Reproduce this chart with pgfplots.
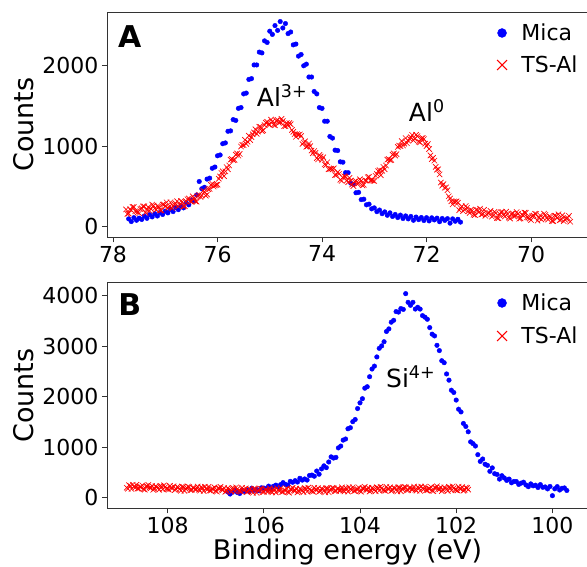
\documentclass[border=0pt]{standalone}
\usepackage{fontspec}
\setmainfont{DejaVu Sans}
\usepackage{pgfplots}
\pgfplotsset{compat=1.18}

\pgfplotsset{
  panel/.style={
    scale only axis, width=481pt, anchor=south west,
    x dir=reverse,
    tick align=outside, tick pos=left,
    major tick length=5pt,
    axis line style={black!80, line width=0.8pt},
    tick style={black!80, line width=0.8pt},
    /pgf/number format/assume math mode=true,
    /pgf/number format/1000 sep={},
    ticklabel style={font=\fontsize{22}{26}\selectfont},
    every axis y label/.style={at={(axis description cs:-0.1538,0.5)}, rotate=90, anchor=base, font=\fontsize{27}{32}\selectfont},
    ylabel={Counts},
    legend cell align=left,
    legend style={draw=none, fill=none, inner sep=0pt, outer sep=0pt, column sep=14.5pt, font=\fontsize{22}{26}\selectfont, nodes={text height=16pt, text depth=0pt, inner xsep=0pt, inner ysep=3pt}, anchor=north west},
  },
  mica/.style={only marks, mark=*, color=blue, mark size=2.3pt, mark options={draw=none, fill=blue},
    legend image code/.code={\draw[##1, only marks, mark size=4.5pt] plot coordinates {(0pt,0pt)};}},
  tsal/.style={only marks, mark=x, color=red, mark size=3.8pt, mark options={line width=0.65pt},
    legend image code/.code={\draw[##1, only marks, mark size=7pt, mark options={line width=1.1pt}] plot coordinates {(0pt,0pt)};}},
}

\begin{document}
\begin{tikzpicture}
%% ---------------- Panel A ----------------
\begin{axis}[panel, at={(107pt,329.7pt)}, height=225.3pt,
  xmin=68.91, xmax=78.115, ymin=-134, ymax=2669,
  xtick={70,72,74,76,78}, ytick={0,1000,2000},
  legend style={at={(axis description cs:0.811,0.9556)}, row sep=10pt}]
\addplot[mica] coordinates {
(77.70,95) (77.65,62) (77.60,110) (77.55,78) (77.50,104) (77.45,88) (77.40,131) (77.35,102)
(77.30,148) (77.25,120) (77.20,160) (77.15,131) (77.10,175) (77.05,150) (77.00,192) (76.95,170)
(76.90,214) (76.85,186) (76.80,236) (76.75,210) (76.70,258) (76.65,232) (76.60,296) (76.55,270)
(76.50,332) (76.45,318) (76.40,392) (76.35,560) (76.30,470) (76.25,488) (76.20,590) (76.15,602)
(76.10,725) (76.05,740) (76.00,880) (75.95,890) (75.90,1030) (75.85,1040) (75.80,1185) (75.75,1190)
(75.70,1330) (75.65,1320) (75.60,1470) (75.55,1480) (75.50,1650) (75.45,1660) (75.40,1830) (75.35,1840)
(75.30,2010) (75.25,2010) (75.20,2170) (75.15,2160) (75.10,2310) (75.05,2290) (75.00,2430) (74.95,2390)
(74.90,2500) (74.85,2440) (74.80,2550) (74.75,2470) (74.70,2525) (74.65,2400) (74.60,2420) (74.55,2260)
(74.50,2270) (74.45,2120) (74.40,2140) (74.35,2000) (74.30,2020) (74.25,1860) (74.20,1860) (74.15,1680)
(74.10,1650) (74.05,1480) (74.00,1470) (73.95,1310) (73.90,1310) (73.85,1120) (73.80,1100) (73.75,950)
(73.70,945) (73.65,805) (73.60,800) (73.55,670) (73.50,670) (73.45,540) (73.40,525) (73.35,420)
(73.30,425) (73.25,335) (73.20,340) (73.15,270) (73.10,278) (73.05,220) (73.00,232) (72.95,185)
(72.90,205) (72.85,160) (72.80,182) (72.75,140) (72.70,170) (72.65,125) (72.60,150) (72.55,112)
(72.50,142) (72.45,100) (72.40,132) (72.35,95) (72.30,125) (72.25,78) (72.20,118) (72.15,86)
(72.10,112) (72.05,75) (72.00,110) (71.95,70) (71.90,108) (71.85,82) (71.80,104) (71.75,60)
(71.70,100) (71.65,76) (71.60,98) (71.55,42) (71.50,95) (71.45,66) (71.40,90) (71.35,55)
};
\addlegendentry{Mica}
\addplot[tsal] coordinates {
(77.75,213) (77.70,162) (77.65,205) (77.60,242) (77.55,187) (77.50,164) (77.45,226) (77.40,251)
(77.35,210) (77.30,195) (77.25,273) (77.20,225) (77.15,254) (77.10,201) (77.05,274) (77.00,250)
(76.95,233) (76.90,302) (76.85,255) (76.80,286) (76.75,248) (76.70,317) (76.65,251) (76.60,311)
(76.55,349) (76.50,309) (76.45,353) (76.40,309) (76.35,395) (76.30,387) (76.25,433) (76.20,399)
(76.15,468) (76.10,532) (76.05,511) (76.00,521) (75.95,623) (75.90,686) (75.85,686) (75.80,712)
(75.75,832) (75.70,825) (75.65,894) (75.60,882) (75.55,995) (75.50,1012) (75.45,1028) (75.40,1130)
(75.35,1112) (75.30,1171) (75.25,1153) (75.20,1242) (75.15,1188) (75.10,1261) (75.05,1303) (75.00,1266)
(74.95,1306) (74.90,1259) (74.85,1325) (74.80,1297) (74.75,1313) (74.70,1249) (74.65,1263) (74.60,1272)
(74.55,1178) (74.50,1116) (74.45,1140) (74.40,1126) (74.35,1046) (74.30,992) (74.25,1032) (74.20,945)
(74.15,939) (74.10,852) (74.05,890) (74.00,832) (73.95,773) (73.90,800) (73.85,717) (73.80,711)
(73.75,640) (73.70,677) (73.65,581) (73.60,611) (73.55,621) (73.50,551) (73.45,572) (73.40,504)
(73.35,567) (73.30,537) (73.25,568) (73.20,519) (73.15,570) (73.10,617) (73.05,575) (73.00,566)
(72.95,653) (72.90,701) (72.85,693) (72.80,712) (72.75,832) (72.70,825) (72.65,894) (72.60,882)
(72.55,990) (72.50,1002) (72.45,1008) (72.40,1100) (72.35,1067) (72.30,1111) (72.25,1073) (72.20,1142)
(72.15,1055) (72.10,1096) (72.05,1088) (72.00,1001) (71.95,964) (71.90,839) (71.85,820) (71.80,707)
(71.75,648) (71.70,509) (71.65,483) (71.60,452) (71.55,348) (71.50,276) (71.45,305) (71.40,296)
(71.35,231) (71.30,192) (71.25,255) (71.20,190) (71.15,209) (71.10,147) (71.05,210) (71.00,177)
(70.95,149) (70.90,208) (70.85,151) (70.80,171) (70.75,123) (70.70,182) (70.65,105) (70.60,156)
(70.55,181) (70.50,126) (70.45,156) (70.40,99) (70.35,163) (70.30,133) (70.25,157) (70.20,101)
(70.15,138) (70.10,170) (70.05,110) (70.00,81) (69.95,137) (69.90,156) (69.85,109) (69.80,87)
(69.75,160) (69.70,107) (69.65,129) (69.60,70) (69.55,136) (69.50,106) (69.45,80) (69.40,140)
(69.35,85) (69.30,107) (69.25,60)
(77.725,156) (77.675,214) (77.625,243) (77.575,190) (77.525,177) (77.475,217) (77.425,251) (77.375,171)
(77.325,242) (77.275,221) (77.225,260) (77.175,209) (77.125,248) (77.075,202) (77.025,273) (76.975,301)
(76.925,244) (76.875,232) (76.825,276) (76.775,315) (76.725,266) (76.675,308) (76.625,253) (76.575,340)
(76.525,315) (76.475,375) (76.425,315) (76.375,377) (76.325,369) (76.275,445) (76.225,384) (76.175,464)
(76.125,519) (76.075,497) (76.025,518) (75.975,594) (75.925,667) (75.875,627) (75.825,739) (75.775,759)
(75.725,840) (75.675,829) (75.625,909) (75.575,903) (75.525,1015) (75.475,1079) (75.425,1055) (75.375,1075)
(75.325,1147) (75.275,1210) (75.225,1181) (75.175,1239) (75.125,1196) (75.075,1292) (75.025,1271) (74.975,1330)
(74.925,1266) (74.875,1317) (74.825,1289) (74.775,1340) (74.725,1249) (74.675,1287) (74.625,1287) (74.575,1201)
(74.525,1149) (74.475,1150) (74.425,1146) (74.375,1027) (74.325,1059) (74.275,999) (74.225,1000) (74.175,911)
(74.125,916) (74.075,835) (74.025,872) (73.975,862) (73.925,763) (73.875,712) (73.825,719) (73.775,724)
(73.725,642) (73.675,653) (73.625,568) (73.575,626) (73.525,572) (73.475,605) (73.425,522) (73.375,561)
(73.325,530) (73.275,588) (73.225,512) (73.175,575) (73.125,613) (73.075,572) (73.025,572) (72.975,631)
(72.925,690) (72.875,638) (72.825,742) (72.775,759) (72.725,840) (72.675,829) (72.625,909) (72.575,900)
(72.525,1007) (72.475,1064) (72.425,1030) (72.375,1037) (72.325,1094) (72.275,1140) (72.225,1091) (72.175,1123)
(72.125,1047) (72.075,1102) (72.025,1031) (71.975,1026) (71.925,885) (71.875,855) (71.825,742) (71.775,713)
(71.725,547) (71.675,527) (71.625,487) (71.575,376) (71.525,314) (71.475,312) (71.425,313) (71.375,204)
(71.325,251) (71.275,210) (71.225,234) (71.175,169) (71.125,199) (71.075,143) (71.025,205) (70.975,222)
(70.925,155) (70.875,133) (70.825,166) (70.775,195) (70.725,136) (70.675,168) (70.625,102) (70.575,178)
(70.525,140) (70.475,185) (70.425,111) (70.375,156) (70.325,126) (70.275,180) (70.225,97) (70.175,150)
(70.125,173) (70.075,116) (70.025,97) (69.975,131) (69.925,159) (69.875,73) (69.825,138) (69.775,110)
(69.725,145) (69.675,87) (69.625,120) (69.575,67) (69.525,132) (69.475,152) (69.425,86) (69.375,66)
(69.325,101) (69.275,132)
};
\addlegendentry{TS-Al}
\node[anchor=base west, inner sep=0pt, font=\fontsize{30}{36}\selectfont\bfseries] at (axis description cs:0.0229,0.8446) {A};
\node[anchor=base west, inner sep=0pt, font=\fontsize{25}{30}\selectfont] at (axis cs:75.25,1488) {Al\textsuperscript{3+}};
\node[anchor=base west, inner sep=0pt, font=\fontsize{25}{30}\selectfont] at (axis cs:72.34,1305) {Al\textsuperscript{0}};
\end{axis}
%% ---------------- Panel B ----------------
\begin{axis}[panel, at={(107pt,58.7pt)}, height=225.6pt,
  xmin=99.26, xmax=109.26, ymin=-210, ymax=4257,
  xtick={100,102,104,106,108}, ytick={0,1000,2000,3000,4000},
  xlabel={Binding energy (eV)},
  every axis x label/.style={at={(axis description cs:0.5,0)}, anchor=base, yshift=-51pt, font=\fontsize{27}{32}\selectfont},
  legend style={at={(axis description cs:0.811,0.9588)}, row sep=11pt}]
\addplot[mica] coordinates {
(106.75,113) (106.70,73) (106.65,112) (106.60,145) (106.55,103) (106.50,83) (106.45,150) (106.40,125)
(106.35,151) (106.30,120) (106.25,188) (106.20,146) (106.15,164) (106.10,137) (106.05,195) (106.00,191)
(105.95,172) (105.90,229) (105.85,177) (105.80,226) (105.75,248) (105.70,213) (105.65,259) (105.60,298)
(105.55,263) (105.50,250) (105.45,323) (105.40,305) (105.35,337) (105.30,310) (105.25,384) (105.20,348)
(105.15,371) (105.10,349) (105.05,440) (105.00,448) (104.95,425) (104.90,528) (104.85,465) (104.80,570)
(104.75,630) (104.70,595) (104.65,707) (104.60,808) (104.55,785) (104.50,798) (104.45,986) (104.40,1022)
(104.35,1140) (104.30,1162) (104.25,1365) (104.20,1385) (104.15,1505) (104.10,1548) (104.05,1765) (104.00,1878)
(103.95,1960) (103.90,2168) (103.85,2197) (103.80,2395) (103.75,2548) (103.70,2605) (103.65,2787) (103.60,2958)
(103.55,3005) (103.50,3088) (103.45,3291) (103.40,3342) (103.35,3475) (103.30,3512) (103.25,3685) (103.20,3675)
(103.15,3745) (103.10,3728) (103.05,4040) (103.00,3868) (102.95,3810) (102.90,3868) (102.85,3735) (102.80,3770)
(102.75,3735) (102.70,3605) (102.65,3574) (102.60,3533) (102.55,3368) (102.50,3238) (102.45,3203) (102.40,3017)
(102.35,2913) (102.30,2712) (102.25,2673) (102.20,2450) (102.15,2327) (102.10,2128) (102.05,2083) (102.00,1933)
(101.95,1752) (101.90,1698) (101.85,1470) (101.80,1410) (101.75,1305) (101.70,1105) (101.65,1070) (101.60,1023)
(101.55,852) (101.50,718) (101.45,766) (101.40,662) (101.35,640) (101.30,522) (101.25,590) (101.20,475)
(101.15,460) (101.10,368) (101.05,435) (101.00,391) (100.95,342) (100.90,369) (100.85,295) (100.80,321)
(100.75,320) (100.70,263) (100.65,288) (100.60,307) (100.55,252) (100.50,218) (100.45,273) (100.40,235)
(100.35,247) (100.30,202) (100.25,259) (100.20,206) (100.15,213) (100.10,174) (100.05,222) (100.00,40)
(99.95,176) (99.90,219) (99.85,152) (99.80,186) (99.75,193) (99.70,143)
};
\addlegendentry{Mica}
\addplot[tsal] coordinates {
(108.85,197) (108.80,248) (108.75,172) (108.70,223) (108.65,255) (108.60,181) (108.55,210) (108.50,170)
(108.45,225) (108.40,253) (108.35,190) (108.30,156) (108.25,227) (108.20,192) (108.15,236) (108.10,164)
(108.05,210) (108.00,170) (107.95,235) (107.90,188) (107.85,151) (107.80,212) (107.75,171) (107.70,222)
(107.65,135) (107.60,191) (107.55,212) (107.50,153) (107.45,196) (107.40,168) (107.35,158) (107.30,208)
(107.25,133) (107.20,184) (107.15,215) (107.10,142) (107.05,171) (107.00,130) (106.95,186) (106.90,214)
(106.85,150) (106.80,116) (106.75,188) (106.70,152) (106.65,196) (106.60,125) (106.55,170) (106.50,130)
(106.45,196) (106.40,148) (106.35,111) (106.30,173) (106.25,131) (106.20,182) (106.15,96) (106.10,151)
(106.05,172) (106.00,114) (105.95,159) (105.90,132) (105.85,124) (105.80,176) (105.75,103) (105.70,156)
(105.65,189) (105.60,118) (105.55,148) (105.50,110) (105.45,168) (105.40,197) (105.35,136) (105.30,103)
(105.25,177) (105.20,144) (105.15,189) (105.10,120) (105.05,167) (105.00,129) (104.95,197) (104.90,151)
(104.85,116) (104.80,180) (104.75,140) (104.70,193) (104.65,108) (104.60,166) (104.55,189) (104.50,132)
(104.45,177) (104.40,150) (104.35,142) (104.30,195) (104.25,121) (104.20,174) (104.15,207) (104.10,136)
(104.05,167) (104.00,128) (103.95,186) (103.90,216) (103.85,154) (103.80,122) (103.75,195) (103.70,162)
(103.65,208) (103.60,138) (103.55,186) (103.50,147) (103.45,215) (103.40,170) (103.35,134) (103.30,198)
(103.25,158) (103.20,211) (103.15,127) (103.10,184) (103.05,206) (103.00,149) (102.95,193) (102.90,166)
(102.85,157) (102.80,209) (102.75,135) (102.70,187) (102.65,220) (102.60,148) (102.55,178) (102.50,139)
(102.45,196) (102.40,225) (102.35,163) (102.30,130) (102.25,203) (102.20,169) (102.15,214) (102.10,144)
(102.05,191) (102.00,152) (101.95,219) (101.90,173) (101.85,137) (101.80,200) (101.75,160)
(108.825,178) (108.775,232) (108.725,256) (108.675,198) (108.625,180) (108.575,215) (108.525,244) (108.475,159)
(108.425,225) (108.375,199) (108.325,233) (108.275,176) (108.225,210) (108.175,157) (108.125,223) (108.075,244)
(108.025,178) (107.975,159) (107.925,195) (107.875,225) (107.825,167) (107.775,201) (107.725,136) (107.675,213)
(107.625,176) (107.575,222) (107.525,150) (107.475,196) (107.425,166) (107.375,221) (107.325,139) (107.275,193)
(107.225,216) (107.175,159) (107.125,141) (107.075,175) (107.025,205) (106.975,120) (106.925,185) (106.875,159)
(106.825,194) (106.775,136) (106.725,170) (106.675,118) (106.625,183) (106.575,204) (106.525,139) (106.475,120)
(106.425,155) (106.375,186) (106.325,128) (106.275,161) (106.225,97) (106.175,174) (106.125,136) (106.075,183)
(106.025,111) (105.975,157) (105.925,130) (105.875,187) (105.825,106) (105.775,162) (105.725,187) (105.675,132)
(105.625,115) (105.575,152) (105.525,184) (105.475,100) (105.425,168) (105.375,143) (105.325,180) (105.275,125)
(105.225,160) (105.175,110) (105.125,177) (105.075,200) (105.025,136) (104.975,119) (104.925,157) (104.875,189)
(104.825,133) (104.775,168) (104.725,106) (104.675,184) (104.625,149) (104.575,198) (104.525,127) (104.475,175)
(104.425,147) (104.375,204) (104.325,124) (104.275,179) (104.225,205) (104.175,149) (104.125,133) (104.075,169)
(104.025,201) (103.975,118) (103.925,185) (103.875,161) (103.825,197) (103.775,142) (103.725,178) (103.675,127)
(103.625,195) (103.575,217) (103.525,154) (103.475,136) (103.425,174) (103.375,207) (103.325,150) (103.275,186)
(103.225,123) (103.175,202) (103.125,167) (103.075,215) (103.025,145) (102.975,192) (102.925,164) (102.875,220)
(102.825,139) (102.775,194) (102.725,219) (102.675,163) (102.625,146) (102.575,182) (102.525,213) (102.475,129)
(102.425,196) (102.375,171) (102.325,207) (102.275,151) (102.225,186) (102.175,135) (102.125,202) (102.075,224)
(102.025,160) (101.975,142) (101.925,179) (101.875,211) (101.825,154) (101.775,189)
};
\addlegendentry{TS-Al}
\node[anchor=base west, inner sep=0pt, font=\fontsize{30}{36}\selectfont\bfseries] at (axis description cs:0.0235,0.8524) {B};
\node[anchor=base west, inner sep=0pt, font=\fontsize{25}{30}\selectfont] at (axis cs:103.46,2186) {Si\textsuperscript{4+}};
\end{axis}
\pgfresetboundingbox
\useasboundingbox (0pt,0pt) rectangle (587pt,567pt);
\end{tikzpicture}
\end{document}
